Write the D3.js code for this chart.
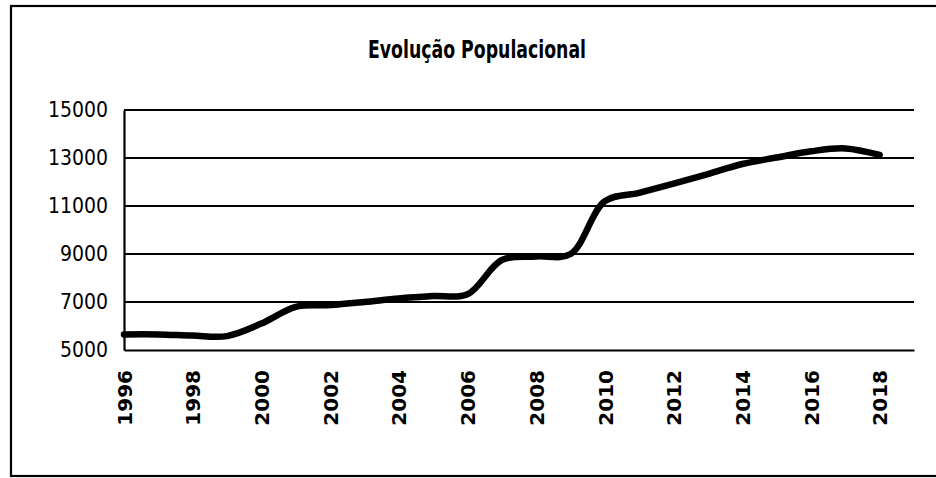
<!DOCTYPE html>
<meta charset="utf-8">
<title>Evolução Populacional</title>
<style>

body {
  margin: 0;
  background: #fff;
}

text {
  fill: #000;
}

</style>
<body>
<script src="https://cdn.jsdelivr.net/npm/d3@7"></script>
<script>

var years = [1996, 1997, 1998, 1999, 2000, 2001, 2002, 2003, 2004, 2005, 2006, 2007,
             2008, 2009, 2010, 2011, 2012, 2013, 2014, 2015, 2016, 2017, 2018];

var population = [5650, 5650, 5600, 5580, 6100, 6800, 6870, 7000, 7150, 7250, 7320, 8750,
                  8900, 9000, 11200, 11550, 11930, 12330, 12750, 13020, 13280, 13400, 13130];

var yTicks = [5000, 7000, 9000, 11000, 13000, 15000];
var xTicks = [1996, 1998, 2000, 2002, 2004, 2006, 2008, 2010, 2012, 2014, 2016, 2018];

var w = 936,
    h = 478;

var x = d3.scaleLinear().domain([1996, 2019]).range([124, 914]),
    y = d3.scaleLinear().domain([5000, 15000]).range([350, 110]);

var svg = d3.select("body").append("svg")
    .attr("width", w)
    .attr("height", h);

// outer frame, right edge runs off the picture
svg.append("rect")
    .attr("x", 11)
    .attr("y", 6)
    .attr("width", 940)
    .attr("height", 470)
    .style("fill", "none")
    .style("stroke", "#000")
    .style("stroke-width", 2.2);

svg.append("text")
    .attr("x", 477)
    .attr("y", 58)
    .attr("text-anchor", "middle")
    .attr("textLength", 218)
    .attr("lengthAdjust", "spacingAndGlyphs")
    .style("font-family", "'Liberation Sans Narrow', 'DejaVu Sans Condensed', sans-serif")
    .style("font-weight", "bold")
    .style("font-size", "25px")
    .text("Evolução Populacional");

// gridlines
svg.append("g")
  .selectAll("line")
    .data(yTicks.slice(1))
  .enter().append("line")
    .attr("x1", x(1996))
    .attr("x2", x(2019))
    .attr("y1", y)
    .attr("y2", y)
    .style("stroke", "#000")
    .style("stroke-width", 2.2);

// y axis
var yAxis = svg.append("g")
    .attr("transform", "translate(" + x(1996) + ",0)")
    .call(d3.axisLeft(y).tickValues(yTicks).tickSize(0).tickPadding(16).tickFormat(d3.format("d")));

yAxis.select(".domain").style("stroke-width", 2.2);
yAxis.selectAll("text")
    .style("font-family", "'Liberation Sans Narrow', 'DejaVu Sans Condensed', sans-serif")
    .style("font-size", "21px");

// x axis
var xAxis = svg.append("g")
    .attr("transform", "translate(0," + y(5000) + ")")
    .call(d3.axisBottom(x).tickValues(xTicks).tickSize(0).tickFormat(d3.format("d")));

xAxis.select(".domain").style("stroke-width", 2.2);
xAxis.selectAll("text")
    .attr("transform", "rotate(-90)")
    .attr("x", -20)
    .attr("y", 0)
    .attr("dy", "0.36em")
    .style("text-anchor", "end")
    .style("font-family", "'DejaVu Sans', sans-serif")
    .style("font-weight", "bold")
    .style("font-size", "20px");

var line = d3.line()
    .x(function(d, i) { return x(years[i]); })
    .y(function(d) { return y(d); })
    .curve(d3.curveCatmullRom.alpha(0.5));

svg.append("path")
    .datum(population)
    .attr("d", line)
    .style("fill", "none")
    .style("stroke", "#000")
    .style("stroke-width", 6.5)
    .style("stroke-linecap", "round");

</script>
